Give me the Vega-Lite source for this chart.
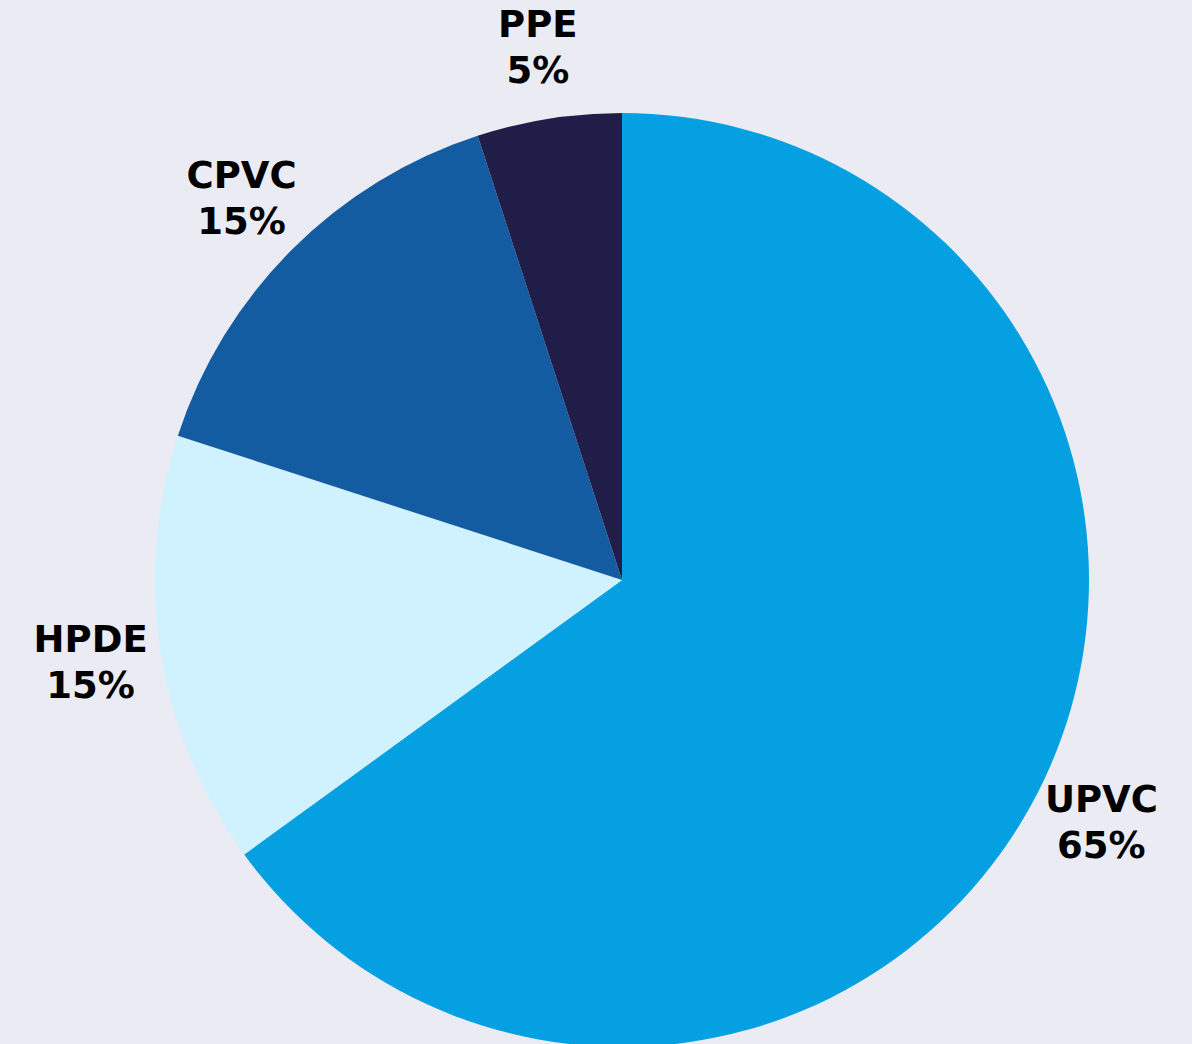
{
  "$schema": "https://vega.github.io/schema/vega-lite/v6.json",
  "width": 1140,
  "height": 928,
  "autosize": "none",
  "padding": {"left": 52, "top": 116, "right": 0, "bottom": 0},
  "background": "#ebebf3",
  "view": {"stroke": null},
  "data": {
    "values": [
      {"material": "UPVC", "share": 0.65, "order": 1},
      {"material": "HPDE", "share": 0.15, "order": 2},
      {"material": "CPVC", "share": 0.15, "order": 3},
      {"material": "PPE", "share": 0.05, "order": 4}
    ]
  },
  "encoding": {
    "theta": {"field": "share", "type": "quantitative", "stack": true},
    "order": {"field": "order", "type": "quantitative"}
  },
  "layer": [
    {
      "mark": {"type": "arc", "outerRadius": 467, "strokeWidth": 0},
      "encoding": {
        "color": {
          "field": "material",
          "type": "nominal",
          "scale": {
            "domain": ["UPVC", "HPDE", "CPVC", "PPE"],
            "range": ["#05a0e2", "#d0f2fe", "#135ca1", "#201e48"]
          },
          "legend": null
        }
      }
    },
    {
      "mark": {"type": "text", "radius": 538, "dy": -23, "font": "DejaVu Sans", "fontWeight": "bold", "fontSize": 37, "color": "#000000", "baseline": "middle", "align": "center"},
      "encoding": {"text": {"field": "material", "type": "nominal"}}
    },
    {
      "mark": {"type": "text", "radius": 538, "dy": 23, "font": "DejaVu Sans", "fontWeight": "bold", "fontSize": 37, "color": "#000000", "baseline": "middle", "align": "center"},
      "encoding": {"text": {"field": "share", "type": "quantitative", "format": ".0%"}}
    }
  ]
}
